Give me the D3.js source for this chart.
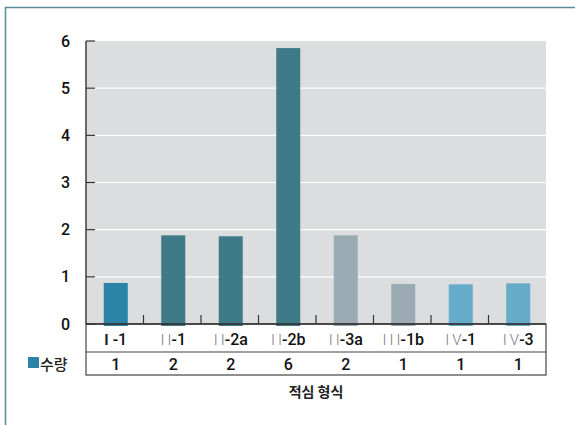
<!DOCTYPE html>
<html><head><meta charset="utf-8">
<script src="https://cdn.jsdelivr.net/npm/d3@7"></script>
<style>body{margin:0;background:#fff}</style>
</head><body>
<script>
const categoriesRoman = ["I", "II", "II", "II", "II", "III", "IV", "IV"];
const categoriesSuffix = [" -1", "-1", "-2a", "-2b", "-3a", "-1b", "-1", "-3"];
const values = [0.87, 1.88, 1.86, 5.85, 1.88, 0.85, 0.84, 0.86];
const tableLabels = ["1", "2", "2", "6", "2", "1", "1", "1"];
const barColors = ["#2b83a5", "#3e7a87", "#3e7a87", "#3e7a87", "#9aabb3", "#9aabb3", "#66abc9", "#66abc9"];
const yTicks = [0, 1, 2, 3, 4, 5, 6];
const seriesName = "수량";
const axisTitle = "적심 형식";

const W = 575, H = 425;
const m = {left: 86, right: 546, top: 41, bottom: 324};
const font = "Roboto, 'Liberation Sans', 'Noto Sans CJK KR', Arial, sans-serif";
const kfont = "'Noto Sans CJK KR', sans-serif";
const svg = d3.select("body").append("svg").attr("width", W).attr("height", H);

// frame
svg.append("path").attr("d", `M5.5,${H} L5.5,7.5 L${W},7.5`).attr("fill", "none")
  .attr("stroke", "#5b8b99").attr("stroke-width", 1.5);

const x = d3.scaleBand().domain(d3.range(values.length)).range([m.left, m.right]);
const y = d3.scaleLinear().domain([0, 6]).range([m.bottom, m.top]);

svg.append("rect").attr("x", m.left).attr("y", m.top).attr("width", m.right - m.left)
  .attr("height", m.bottom - m.top).attr("fill", "#dcdddf");

// gridlines
svg.selectAll(".grid").data(yTicks.filter(d => d > 0 && d < 6)).enter().append("line")
  .attr("x1", m.left).attr("x2", m.right).attr("y1", d => y(d)).attr("y2", d => y(d))
  .attr("stroke", "#fff").attr("stroke-width", 1.2);

// bars
const bw = 24;
svg.selectAll(".bar").data(values).enter().append("rect")
  .attr("x", (d, i) => x(i) + x.bandwidth() / 2 - bw / 2 + 1)
  .attr("y", d => y(d)).attr("width", bw).attr("height", d => m.bottom + 2 - y(d))
  .attr("fill", (d, i) => barColors[i]);

// x small ticks between categories
svg.selectAll(".xt").data(d3.range(1, values.length)).enter().append("line")
  .attr("x1", i => x(i)).attr("x2", i => x(i)).attr("y1", m.bottom).attr("y2", m.bottom - 9)
  .attr("stroke", "#333").attr("stroke-width", 1.2);

// y axis
const yAxis = d3.axisLeft(y).tickValues(yTicks).tickFormat(d3.format("d")).tickSize(0).tickPadding(16);
const ya = svg.append("g").attr("transform", `translate(${m.left},0)`).call(yAxis);
ya.select(".domain").remove();
ya.selectAll("text").attr("font-family", font).attr("font-size", 16).attr("font-weight", 500).attr("fill", "#111");
svg.selectAll(".yt").data(yTicks).enter().append("line")
  .attr("x1", m.left).attr("x2", m.left + 9).attr("y1", d => y(d)).attr("y2", d => y(d))
  .attr("stroke", "#333").attr("stroke-width", 1.2);
svg.append("line").attr("x1", m.left).attr("x2", m.left).attr("y1", m.top).attr("y2", m.bottom)
  .attr("stroke", "#333").attr("stroke-width", 1.4);

// table
const r1 = m.bottom, r2 = 352, r3 = 375;
svg.append("rect").attr("x", m.left).attr("y", r1).attr("width", m.right - m.left)
  .attr("height", r3 - r1).attr("fill", "none").attr("stroke", "#444").attr("stroke-width", 1.2);
svg.append("line").attr("x1", m.left).attr("x2", m.right).attr("y1", r2).attr("y2", r2)
  .attr("stroke", "#444").attr("stroke-width", 1.2);
svg.append("line").attr("x1", m.left).attr("x2", m.right).attr("y1", m.bottom).attr("y2", m.bottom)
  .attr("stroke", "#333").attr("stroke-width", 1.6);

const catText = svg.selectAll(".cat").data(categoriesSuffix).enter().append("text")
  .attr("x", (d, i) => x(i) + x.bandwidth() / 2 + 1).attr("y", 345)
  .attr("text-anchor", "middle").attr("font-family", font).attr("font-size", 16).attr("font-weight", 500);
catText.append("tspan").text((d, i) => i === 0 ? "I" : categoriesRoman[i].split("").join("\u2009"))
  .attr("fill", (d, i) => i === 0 ? "#222" : "#7a7a7a")
  .attr("font-weight", (d, i) => i === 0 ? "bold" : 300)
  .attr("font-size", 15);
catText.append("tspan").text(d => d).attr("fill", "#111");

svg.selectAll(".val").data(tableLabels).enter().append("text")
  .attr("x", (d, i) => x(i) + x.bandwidth() / 2 + 1).attr("y", 370)
  .attr("text-anchor", "middle").attr("font-family", font).attr("font-size", 16).attr("font-weight", 500)
  .attr("fill", "#111").text(d => d);

// legend
svg.append("rect").attr("x", 28).attr("y", 357).attr("width", 11).attr("height", 11).attr("fill", barColors[0]);
svg.append("text").attr("x", 40).attr("y", 370).attr("font-family", kfont).attr("font-size", 15)
  .attr("font-weight", 500).attr("fill", "#222").text(seriesName);

// axis title
svg.append("text").attr("x", (m.left + m.right) / 2).attr("y", 397).attr("text-anchor", "middle")
  .attr("font-family", kfont).attr("font-size", 14).attr("font-weight", "bold").attr("fill", "#222")
  .text(axisTitle);
</script>
</body></html>
